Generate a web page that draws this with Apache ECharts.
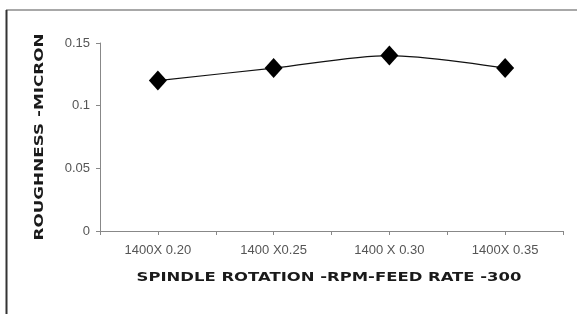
<!DOCTYPE html>
<html>
<head>
<meta charset="utf-8">
<script src="https://cdn.jsdelivr.net/npm/echarts@6/dist/echarts.min.js"></script>
<style>
  html, body { margin: 0; padding: 0; background: #fff; }
  #chart { width: 577px; height: 314px; }
</style>
</head>
<body>
<div id="chart"></div>
<script>
// data
const categories = ['1400X 0.20', '1400 X0.25', '1400 X 0.30', '1400X 0.35'];
const roughness = [0.12, 0.13, 0.14, 0.13];
const yTicks = [0, 0.05, 0.1, 0.15];
// half-steps, only used to place the extra tick marks between categories
const halfSlots = ['a', 'b', 'c', 'd', 'e', 'f', 'g', 'h'];

const xTitle = 'SPINDLE ROTATION -RPM-FEED RATE -300';
const yTitle = 'ROUGHNESS -MICRON';

const chart = echarts.init(document.getElementById('chart'));

const titleStyle = { fontFamily: 'DejaVu Sans', fontWeight: 'bold', fontSize: 12, fill: '#1a1a1a' };

const option = {
  animation: false,
  backgroundColor: '#fff',
  grid: { left: 100, right: 14, top: 43, bottom: 83 },
  graphic: [
    // frame: gray top edge, dark left edge
    { type: 'line', shape: { x1: 6, y1: 10, x2: 577, y2: 10 }, style: { stroke: '#a8a8a8', lineWidth: 2 } },
    { type: 'line', shape: { x1: 6.5, y1: 10, x2: 6.5, y2: 314 }, style: { stroke: '#333', lineWidth: 2 } },
    // axis titles, stretched like the original
    {
      type: 'text', x: 329, y: 278, scaleX: 1.37,
      style: Object.assign({ text: xTitle, align: 'center', verticalAlign: 'middle' }, titleStyle)
    },
    {
      type: 'text', x: 40, y: 137, rotation: Math.PI / 2, scaleX: 1.4,
      style: Object.assign({ text: yTitle, align: 'center', verticalAlign: 'middle' }, titleStyle)
    }
  ],
  xAxis: [
    {
      type: 'category',
      data: categories,
      boundaryGap: true,
      axisLine: { lineStyle: { color: '#888', width: 1 } },
      axisTick: { show: false },
      axisLabel: { color: '#555', fontSize: 13, fontFamily: 'Liberation Sans', margin: 13 }
    },
    {
      type: 'category',
      data: halfSlots,
      position: 'bottom',
      boundaryGap: true,
      axisLine: { show: false },
      axisTick: { show: true, interval: 0, length: 4, lineStyle: { color: '#888' } },
      axisLabel: { show: false }
    }
  ],
  yAxis: {
    type: 'value',
    min: 0,
    max: 0.15,
    interval: 0.05,
    axisLine: { show: true, lineStyle: { color: '#888', width: 1 } },
    axisTick: { show: true, length: 4, lineStyle: { color: '#888' } },
    splitLine: { show: false },
    axisLabel: {
      color: '#555',
      fontSize: 13,
      fontFamily: 'Liberation Sans',
      margin: 10,
      formatter: v => (yTicks.includes(+v.toFixed(2)) ? String(+v.toFixed(2)) : '')
    }
  },
  series: [
    {
      type: 'line',
      xAxisIndex: 0,
      data: roughness,
      smooth: 0.3,
      symbol: 'diamond',
      symbolSize: [18, 20],
      itemStyle: { color: '#000' },
      lineStyle: { color: '#111', width: 1.2 }
    }
  ]
};

chart.setOption(option);
</script>
</body>
</html>
